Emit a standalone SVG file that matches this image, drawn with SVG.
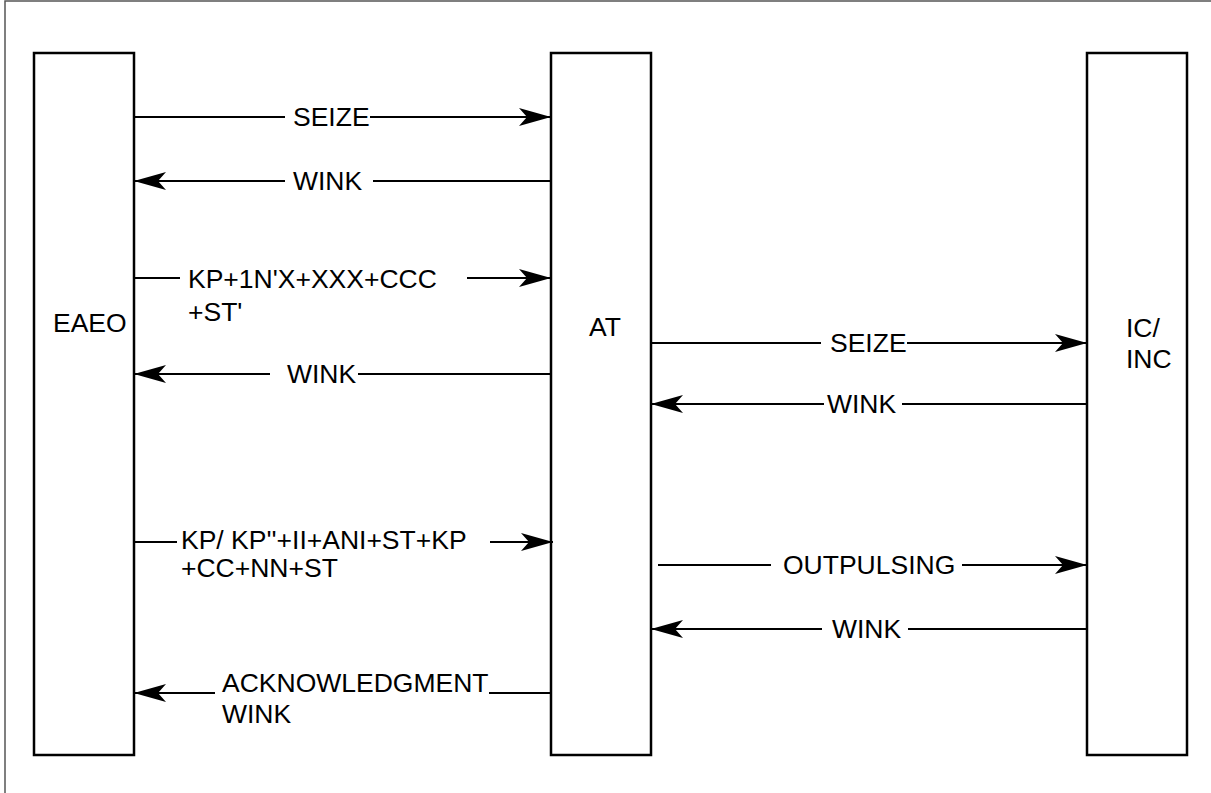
<svg xmlns="http://www.w3.org/2000/svg" width="1211" height="793" viewBox="0 0 1211 793">
<style>
.box{fill:#fff;stroke:#000;stroke-width:2.5}
.ln{stroke:#000;stroke-width:2;fill:none}
.t{font-family:"Liberation Sans",Arial,sans-serif;font-size:26.5px;fill:#000}
</style>
<defs>
<marker id="ah" viewBox="0 0 32 20" refX="32" refY="10" markerWidth="32" markerHeight="20" markerUnits="userSpaceOnUse" orient="auto">
<path d="M0,1 L32,10 L0,19 L8,10 Z" fill="#000"/>
</marker>
</defs>
<rect width="1211" height="793" fill="#fff"/>
<path d="M5,793 L5,1 L1211,1" fill="none" stroke="#555" stroke-width="1.5"/>
<g id="node-eaeo">
<rect class="box" x="34" y="53" width="100" height="702"/>
<text class="t" x="53" y="332">EAEO</text>
</g>
<g id="node-at">
<rect class="box" x="551" y="53" width="100" height="702"/>
<text class="t" x="589" y="336">AT</text>
</g>
<g id="node-ic">
<rect class="box" x="1087" y="53" width="100" height="702"/>
<text class="t" x="1126" y="337">IC/</text>
<text class="t" x="1126" y="368">INC</text>
</g>
<g id="connectors">
<line class="ln" x1="134" y1="117" x2="285" y2="117"/>
<line class="ln" x1="370" y1="117" x2="551" y2="117" marker-end="url(#ah)"/>
<text class="t" x="293" y="126">SEIZE</text>
<line class="ln" x1="551" y1="181" x2="373" y2="181"/>
<line class="ln" x1="285" y1="181" x2="134" y2="181" marker-end="url(#ah)"/>
<text class="t" x="293" y="190">WINK</text>
<line class="ln" x1="134" y1="278" x2="180" y2="278"/>
<line class="ln" x1="467" y1="278" x2="551" y2="278" marker-end="url(#ah)"/>
<text class="t" x="188" y="288">KP+1N'X+XXX+CCC</text>
<text class="t" x="188" y="321">+ST'</text>
<line class="ln" x1="551" y1="374" x2="358" y2="374"/>
<line class="ln" x1="270" y1="374" x2="134" y2="374" marker-end="url(#ah)"/>
<text class="t" x="287" y="383">WINK</text>
<line class="ln" x1="651" y1="343" x2="821" y2="343"/>
<line class="ln" x1="907" y1="343" x2="1087" y2="343" marker-end="url(#ah)"/>
<text class="t" x="830" y="352">SEIZE</text>
<line class="ln" x1="1087" y1="404" x2="902" y2="404"/>
<line class="ln" x1="824" y1="404" x2="651" y2="404" marker-end="url(#ah)"/>
<text class="t" x="827" y="413">WINK</text>
<line class="ln" x1="134" y1="542" x2="177" y2="542"/>
<line class="ln" x1="490" y1="542" x2="553" y2="542" marker-end="url(#ah)"/>
<text class="t" x="181" y="549">KP/ KP''+II+ANI+ST+KP</text>
<text class="t" x="181" y="577">+CC+NN+ST</text>
<line class="ln" x1="658" y1="565" x2="771" y2="565"/>
<line class="ln" x1="962" y1="565" x2="1087" y2="565" marker-end="url(#ah)"/>
<text class="t" x="783" y="574">OUTPULSING</text>
<line class="ln" x1="1087" y1="629" x2="908" y2="629"/>
<line class="ln" x1="822" y1="629" x2="651" y2="629" marker-end="url(#ah)"/>
<text class="t" x="832" y="638">WINK</text>
<line class="ln" x1="551" y1="693" x2="489" y2="693"/>
<line class="ln" x1="215" y1="693" x2="134" y2="693" marker-end="url(#ah)"/>
<text class="t" x="222" y="692">ACKNOWLEDGMENT</text>
<text class="t" x="222" y="723">WINK</text>
</g>
</svg>
